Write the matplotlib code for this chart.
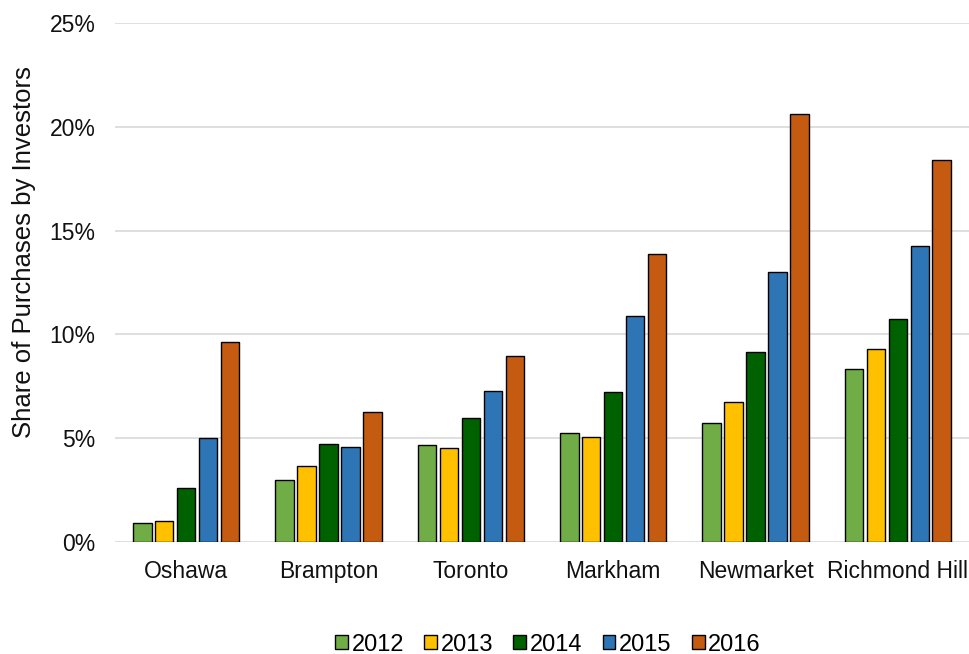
import numpy as np
import matplotlib.pyplot as plt
from matplotlib.ticker import PercentFormatter

plt.rcParams['font.family'] = ['Liberation Sans', 'DejaVu Sans']

cities = ["Oshawa", "Brampton", "Toronto", "Markham", "Newmarket", "Richmond Hill"]
years = ["2012", "2013", "2014", "2015", "2016"]
share_2012 = [0.93, 2.97, 4.67, 5.27, 5.75, 8.35]
share_2013 = [1.01, 3.68, 4.53, 5.07, 6.74, 9.31]
share_2014 = [2.59, 4.72, 5.97, 7.21, 9.14, 10.76]
share_2015 = [5.00, 4.56, 7.27, 10.90, 13.00, 14.24]
share_2016 = [9.63, 6.26, 8.96, 13.87, 20.63, 18.42]
colors = ["#70AD47", "#FFC000", "#006100", "#2E75B6", "#C55A11"]

series = [share_2012, share_2013, share_2014, share_2015, share_2016]

fig = plt.figure(figsize=(9.69, 6.54), dpi=100)
ax = fig.add_axes([0.1187, 0.1713, 0.8813, 0.7935])

x = np.arange(len(cities))
slot = 0.154
width = 0.129
for i, (vals, year, c) in enumerate(zip(series, years, colors)):
    ax.bar(x + (i - 2) * slot, vals, width, color=c, edgecolor="black",
           linewidth=1.0, label=year, zorder=3)

ax.set_xlim(-0.5, len(cities) - 0.5)
ax.set_ylim(0, 25)
ax.set_yticks(np.arange(0, 26, 5))
ax.yaxis.set_major_formatter(PercentFormatter(decimals=0))
ax.set_xticks(x)
ax.set_xticklabels(cities)
ax.tick_params(axis="both", length=0, labelsize=16.5, colors="#111111")
ax.tick_params(axis="y", pad=14)
ax.tick_params(axis="x", pad=13)
ax.grid(axis="y", color="#D9D9D9", linewidth=1.2, zorder=0)
for s in ax.spines.values():
    s.set_visible(False)

ax.set_ylabel("Share of Purchases by Investors", fontsize=18.5, color="#111111")
ax.yaxis.set_label_coords(-0.092, 0.559)

leg = ax.legend(loc="lower center", bbox_to_anchor=(0.507, -0.26), ncol=5, frameon=False,
                fontsize=17, handlelength=0.55, handleheight=0.55, handletextpad=0.15,
                columnspacing=0.85)

fig.savefig("out.png", dpi=100)
plt.close(fig)
